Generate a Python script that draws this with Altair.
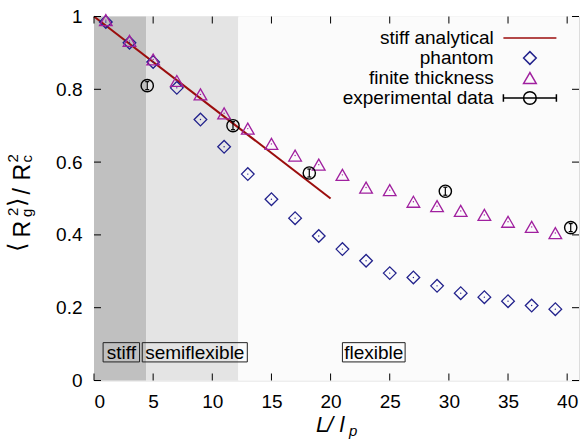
import altair as alt
import pandas as pd

# ---------------- data ----------------
L_sim = [1, 3, 5, 7, 9, 11, 13, 15, 17, 19, 21, 23, 25, 27, 29, 31, 33, 35, 37, 39]
phantom = [0.985, 0.928, 0.875, 0.804, 0.717, 0.642, 0.567, 0.498, 0.446, 0.397,
           0.361, 0.329, 0.295, 0.283, 0.260, 0.240, 0.229, 0.218, 0.206, 0.196]
finite = [0.990, 0.933, 0.882, 0.823, 0.786, 0.734, 0.692, 0.650, 0.618, 0.593,
          0.565, 0.530, 0.523, 0.491, 0.479, 0.466, 0.455, 0.436, 0.422, 0.405]
exp_L = [4.5, 11.75, 18.2, 29.7, 40.3]
exp_val = [0.81, 0.70, 0.57, 0.52, 0.42]
exp_err = [0.011, 0.011, 0.011, 0.011, 0.011]
stiff_L = [0, 20]
stiff_val = [1.0, 0.5]

regime_names = ["stiff", "semiflexible", "flexible"]
regime_start = [0, 4.4, 12.2]
regime_end = [4.4, 12.2, 41]
regime_label_x1 = [0.77, 4.08, 21.0]
regime_label_x2 = [3.85, 12.96, 26.3]
regime_label_y1 = [0.051, 0.051, 0.051]
regime_label_y2 = [0.104, 0.104, 0.104]

x_ticks = [0, 5, 10, 15, 20, 25, 30, 35, 40]
y_ticks = [0, 0.2, 0.4, 0.6, 0.8, 1.0]

series = ["stiff analytical", "phantom", "finite thickness", "experimental data"]

# ---------------- style ----------------
FONT = "Liberation Sans"
W, H = 485, 364
XMAX = 41
series_colors = ["#9b0d0d", "#22228c", "#a0209f", "#000000"]
regime_colors = ["#c0c0c0", "#e4e4e4", "#fbfbfb"]
series_shapes = [
    "M-4.19,0L4.19,0",
    "diamond",
    "triangle-up",
    "M-4.19,0L4.19,0M-4.19,-0.6L-4.19,0.6M4.19,-0.6L4.19,0.6"
    "M-1,0A1,1,0,1,0,1,0A1,1,0,1,0,-1,0",
]

xscale = alt.Scale(domain=[0, XMAX], nice=False, zero=False)
yscale = alt.Scale(domain=[0, 1], nice=False, zero=False)
cscale = alt.Scale(domain=series, range=series_colors)
sscale = alt.Scale(domain=series, range=series_shapes)

xaxis = alt.Axis(values=x_ticks, ticks=False, domain=False, grid=False, title=None,
                 labelFontSize=19, labelPadding=12, labelColor="#000", labelFont=FONT)
yaxis = alt.Axis(values=y_ticks, ticks=False, domain=False, grid=False, title=None,
                 format="~g", labelFontSize=19, labelPadding=12, labelColor="#000",
                 labelFont=FONT)

legend = alt.Legend(title=None, orient="none", legendX=426.4, legendY=12,
                    labelAlign="right", labelOffset={"expr": "-45.7"}, labelFontSize=19,
                    labelFont=FONT, labelColor="#000", rowPadding=0, padding=0,
                    symbolSize=160, symbolStrokeWidth=1.5, labelLimit=300,
                    symbolFillColor="transparent")


def X(field):
    return alt.X(field, type="quantitative", scale=xscale, axis=xaxis)


def Y(field):
    return alt.Y(field, type="quantitative", scale=yscale, axis=yaxis)


def C():
    return alt.Color("series:N", scale=cscale, legend=legend)


# ---------------- tables ----------------
regimes = pd.DataFrame({"name": regime_names, "x1": regime_start, "x2": regime_end,
                        "fill": regime_colors})
labels = pd.DataFrame({"name": regime_names, "x1": regime_label_x1, "x2": regime_label_x2,
                       "y1": regime_label_y1, "y2": regime_label_y2})
labels["xc"] = (labels.x1 + labels.x2) / 2
labels["yc"] = (labels.y1 + labels.y2) / 2

sim = pd.concat([
    pd.DataFrame({"L": L_sim, "v": phantom, "series": "phantom"}),
    pd.DataFrame({"L": L_sim, "v": finite, "series": "finite thickness"}),
])
exp = pd.DataFrame({"L": exp_L, "v": exp_val, "series": "experimental data"})
exp["lo"] = exp.v - pd.Series(exp_err)
exp["hi"] = exp.v + pd.Series(exp_err)
stiff = pd.DataFrame({"L": stiff_L, "v": stiff_val, "series": "stiff analytical"})
xt = pd.DataFrame({"t": x_ticks})
yt = pd.DataFrame({"t": y_ticks})

# ---------------- layers ----------------
bg = alt.Chart(regimes).mark_rect().encode(
    x=X("x1"), x2="x2", y=alt.value(0), y2=alt.value(H),
    color=alt.Color("fill:N", scale=None))

boxes = alt.Chart(labels).mark_rect(fill=None, stroke="#222", strokeWidth=1).encode(
    x=X("x1"), x2="x2", y=Y("y1"), y2="y2")
box_text = alt.Chart(labels).mark_text(font=FONT, fontSize=19, color="#000",
                                       baseline="middle", align="center", dy=1).encode(
    x=X("xc"), y=Y("yc"), text="name:N")

line = alt.Chart(stiff).mark_line(strokeWidth=2).encode(x=X("L"), y=Y("v"), color=C())

pts = alt.Chart(sim).mark_point(filled=False, size=160, strokeWidth=1.3, opacity=1).encode(
    x=X("L"), y=Y("v"), color=C(),
    shape=alt.Shape("series:N", scale=sscale, legend=legend))

dots_ph = alt.Chart(sim).transform_filter(alt.datum.series == "phantom").mark_circle(
    size=2, opacity=1, color=series_colors[1]).encode(x=X("L"), y=Y("v"))
dots_ft = alt.Chart(sim).transform_filter(alt.datum.series == "finite thickness").mark_circle(
    size=2, opacity=1, color=series_colors[2]).encode(x=X("L"), y=Y("v"))

err = alt.Chart(exp).mark_rule(strokeWidth=1.2, color="#000").encode(
    x=X("L"), y=Y("lo"), y2="hi")
err_lo = alt.Chart(exp).mark_tick(orient="horizontal", size=4, thickness=1.2,
                                  color="#000", opacity=1).encode(x=X("L"), y=Y("lo"))
err_hi = alt.Chart(exp).mark_tick(orient="horizontal", size=4, thickness=1.2,
                                  color="#000", opacity=1).encode(x=X("L"), y=Y("hi"))
exp_pts = alt.Chart(exp).mark_point(shape="circle", filled=False, size=150,
                                    strokeWidth=1.4, opacity=1).encode(
    x=X("L"), y=Y("v"), color=C())

tb = alt.Chart(xt).mark_rule(color="#000", strokeWidth=1).encode(
    x=X("t"), y=alt.value(H), y2=alt.value(H - 7))
tt = alt.Chart(xt).mark_rule(color="#000", strokeWidth=1).encode(
    x=X("t"), y=alt.value(0), y2=alt.value(7))
tl = alt.Chart(yt).mark_rule(color="#000", strokeWidth=1).encode(
    y=Y("t"), x=alt.value(0), x2=alt.value(7))
tr = alt.Chart(yt).mark_rule(color="#000", strokeWidth=1).encode(
    y=Y("t"), x=alt.value(W), x2=alt.value(W - 7))

one = pd.DataFrame({"a": [0]})


def piece(text, px, py, size, angle=0, baseline="alphabetic", style="normal"):
    return alt.Chart(one).mark_text(text=text, font=FONT, fontSize=size, color="#000",
                                    angle=angle, align="left", baseline=baseline,
                                    fontStyle=style).encode(
        x=alt.value(px), y=alt.value(py))


# y-axis title  <R_g^2>/R_c^2 (rotated)
ytitle = [
    piece("⟨", -76.5, 235.5, 24, 270, "middle"),
    piece("R", -64, 221, 23, 270),
    piece("2", -76, 199.5, 15, 270),
    piece("g", -62.5, 200.5, 15, 270),
    piece("⟩", -76.5, 190.5, 24, 270, "middle"),
    piece("/", -64, 178, 23, 270),
    piece("R", -64, 164, 23, 270),
    piece("2", -76, 146, 15, 270),
    piece("c", -62.5, 146, 15, 270),
]
# x-axis title  L / l_p
xtitle = [
    piece("L", 222, 415.5, 22, 0, "alphabetic", "italic"),
    piece("/", 233, 415.5, 22, 0, "alphabetic", "italic"),
    piece("l", 245.5, 415.5, 22, 0, "alphabetic", "italic"),
    piece("p", 255, 419, 15, 0, "alphabetic", "italic"),
]

chart = alt.layer(
    bg, boxes, box_text, line, pts, dots_ph, dots_ft, err, err_lo, err_hi, exp_pts,
    tb, tt, tl, tr, *ytitle, *xtitle
).properties(
    width=W, height=H,
    autosize=alt.AutoSizeParams(type="none"),
    padding={"left": 94, "top": 16.5, "right": 2, "bottom": 58.5},
).configure_view(
    stroke="#000", strokeWidth=1.3
).configure(
    font=FONT, background="#ffffff"
)

chart.save("out.html", embed_options={"renderer": "svg", "actions": False})
